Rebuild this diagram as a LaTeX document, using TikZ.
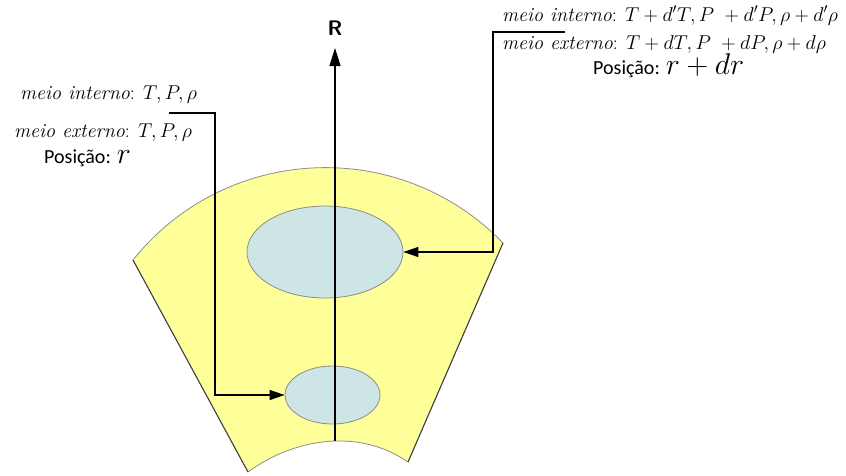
\RequirePackage{fix-cm}
\documentclass[tikz,border=0pt]{standalone}
\usepackage{fontspec}
\newfontfamily\calib{Carlito}
\usetikzlibrary{arrows.meta,shapes.geometric}
\definecolor{sectorfill}{HTML}{FFFF99}
\definecolor{ellfill}{HTML}{CDE5E5}
\definecolor{edgegray}{HTML}{8C8C8C}
\newcommand\bigmath[1]{{\fontsize{30}{32}\selectfont$#1$}}
\begin{document}
\begin{tikzpicture}[x=1pt,y=-1pt,
  every node/.style={inner sep=0pt},
  lbl/.style={anchor=base west, font=\fontsize{20}{24}\selectfont},
  poslbl/.style={anchor=base west, font=\calib\fontsize{20}{24}\selectfont},
  ell/.style={ellipse, draw=edgegray, line width=0.8pt, fill=ellfill},
  conn/.style={line width=1.2pt, -{Triangle[length=15pt,width=10pt]}},
  axisline/.style={line width=1.2pt, -{Triangle[length=18pt,width=11pt]}}]
\useasboundingbox (0,0) rectangle (846,475);
% sector
\path[fill=sectorfill, draw=edgegray, line width=0.8pt]
  (133,260) .. controls (226,144) and (399.5,136) .. (503,243)
  -- (408,462) .. controls (360,428.7) and (296,437) .. (248,472) -- cycle;
\draw[line width=1pt, black!75] (133,260) -- (248,472);
\draw[line width=1pt, black!75] (503,243) -- (408,462);
% ellipses
\node[ell, minimum width=156pt, minimum height=92pt] (big) at (325,252) {};
\node[ell, minimum width=95pt, minimum height=58pt] (small) at (332.5,395) {};
% axis
\coordinate (base) at (335,441);
\coordinate (tip) at (335,48);
\draw[axisline] (base) -- (tip);
\node[font=\sffamily\bfseries\fontsize{21}{24}\selectfont] (R) at (335,28) {R};
% connectors
\coordinate (l0) at (169,113);
\coordinate (lb) at (215,113);
\draw[conn] (l0) -- (lb) |- (small.west);
\coordinate (r0) at (565,32);
\coordinate (rb) at (493,32);
\draw[conn] (r0) -- (rb) |- (big.east);
% labels right
\node[lbl] (t1) at (502,21) {\textit{meio interno}: $T + d'T, P\ + d'P, \rho + d'\rho$};
\node[lbl] (t2) at (502,49) {\textit{meio externo}: $T + dT, P\ + dP, \rho + d\rho$};
\node[poslbl] (t3) at (593,74) {Posição: \bigmath{r + dr}};
% labels left
\node[lbl] (s1) at (20,99) {\textit{meio interno}: $T, P, \rho$};
\node[lbl] (s2) at (14,137) {\textit{meio externo}: $T, P, \rho$};
\node[poslbl] (s3) at (44,163) {Posição: \bigmath{r}};
\end{tikzpicture}
\end{document}
